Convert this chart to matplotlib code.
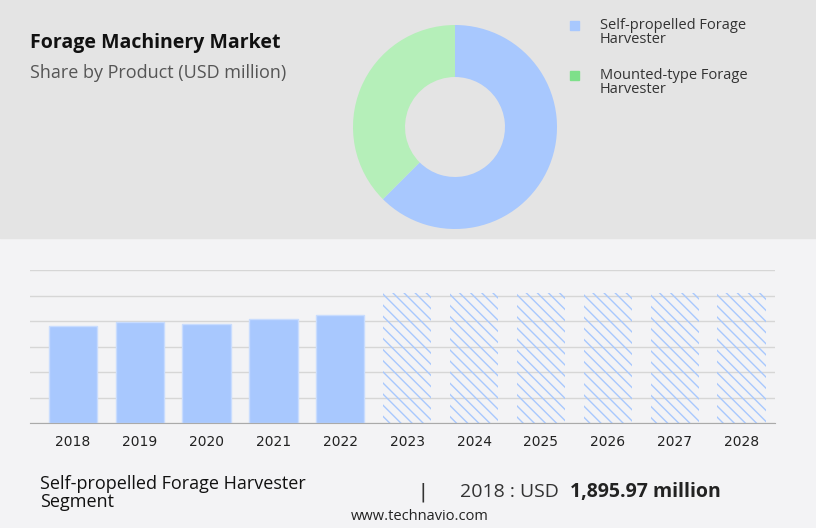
import matplotlib.pyplot as plt
from matplotlib.patches import Rectangle

years = ["2018", "2019", "2020", "2021", "2022", "2023", "2024", "2025", "2026", "2027", "2028"]
actual = [1895.97, 1975, 1935, 2033, 2120]
forecast_height = 2540
share_labels = ["Self-propelled Forage\nHarvester", "Mounted-type Forage\nHarvester"]
share_values = [62.5, 37.5]
blue = "#a8c8fe"
green = "#b5efb9"

W, H = 816, 528
fig = plt.figure(figsize=(W / 100, H / 100), dpi=100)
fig.patch.set_facecolor("#f3f3f5")
fig.add_artist(Rectangle((0, 1 - 238 / H), 1, 238 / H, transform=fig.transFigure,
                         color="#e4e4e4", zorder=0))

def fx(px):
    return px / W

def fy(py):
    return 1 - py / H

fig.text(fx(30), fy(43), "Forage Machinery Market", fontsize=14, fontweight="bold",
         color="#111111", va="center", family="Open Sans")
fig.text(fx(30), fy(73), "Share by Product (USD million)", fontsize=13,
         color="#555555", va="center", family="Open Sans")

# donut
r = 102
ax_p = fig.add_axes([fx(455 - r), fy(127 + r), 2 * r / W, 2 * r / H])
ax_p.pie(share_values, colors=[blue, green], startangle=90, counterclock=False,
         wedgeprops=dict(width=0.51))
ax_p.set_xlim(-1, 1)
ax_p.set_ylim(-1, 1)
ax_p.set_aspect("equal")

# legend
for i, (lab, col) in enumerate(zip(share_labels, [blue, "#7ee08a"])):
    y = 25 + i * 50
    fig.add_artist(Rectangle((fx(570), fy(y + 5)), 9 / W, 9 / H, transform=fig.transFigure,
                             color=col))
    fig.text(fx(600), fy(y - 7), lab, fontsize=10.5, color="#333333", va="top",
             family="Open Sans", linespacing=0.9)

# bars
ax = fig.add_axes([fx(30), fy(423), (775 - 30) / W, (423 - 270) / H])
ax.set_facecolor("none")
x = list(range(len(years)))
ax.bar(x[:len(actual)], actual, width=0.72, color=blue, edgecolor="#c8dcfe", linewidth=1, zorder=2)
ax.bar(x[len(actual):], [forecast_height] * (len(years) - len(actual)), width=0.72,
       color="none", edgecolor=blue, hatch="\\\\\\", linewidth=0, zorder=2)
ax.set_xlim(-0.64, 10.5)
ax.set_ylim(0, 3000)
ax.set_yticks(range(0, 3001, 500))
ax.yaxis.grid(True, color="#d6d6d6", linewidth=1)
ax.tick_params(axis="y", left=False, labelleft=False)
ax.tick_params(axis="x", length=0, pad=9, labelsize=10, colors="#222222")
ax.set_xticks(x)
ax.set_xticklabels(years)
for s in ["top", "right", "left"]:
    ax.spines[s].set_visible(False)
ax.spines["bottom"].set_color("#aaaaaa")

fig.text(fx(40), fy(493), "Self-propelled Forage Harvester\nSegment", fontsize=13,
         color="#111111", va="center", family="Open Sans", linespacing=0.95)
fig.text(fx(420), fy(492), "|", fontsize=14, color="#333333", va="center")
fig.text(fx(460), fy(492), "2018 : USD ", fontsize=14, color="#333333", va="center",
         family="Open Sans")
fig.text(fx(570), fy(492), "1,895.97 million", fontsize=14, fontweight="bold",
         color="#222222", va="center", family="Open Sans")
fig.text(fx(420), fy(516), "www.technavio.com", fontsize=10.5, color="#222222",
         va="center", ha="center", family="Open Sans")

fig.savefig("out.png", dpi=100, facecolor=fig.get_facecolor())
